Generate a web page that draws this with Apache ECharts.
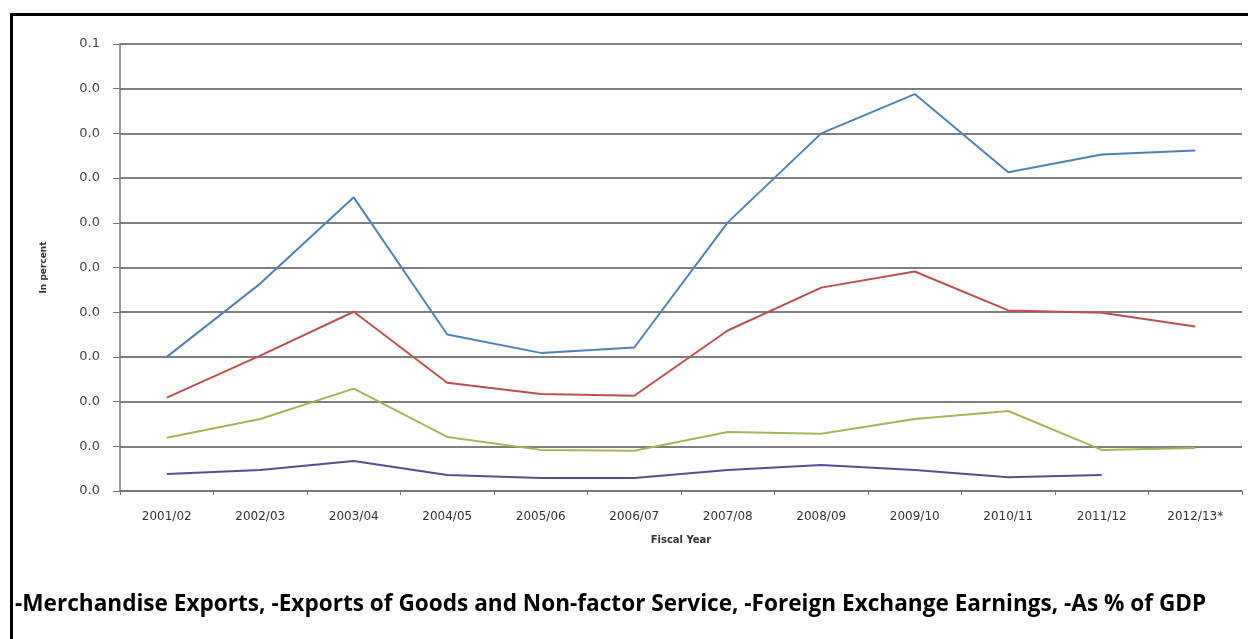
<!DOCTYPE html>
<html>
<head>
<meta charset="utf-8">
<script src="https://cdn.jsdelivr.net/npm/echarts@6/dist/echarts.min.js"></script>
<style>
  html, body { margin: 0; padding: 0; background: #fff; }
  #wrap { position: relative; width: 1248px; height: 639px; overflow: hidden; }
  #frame { position: absolute; left: 10px; top: 13px; width: 1300px; height: 700px;
           border-left: 3px solid #000; border-top: 3px solid #000; }
  #chart { position: absolute; left: 0; top: 0; width: 1248px; height: 639px; }
</style>
</head>
<body>
<div id="wrap">
  <div id="frame"></div>
  <div id="chart"></div>
</div>
<script>
const categories = ['2001/02','2002/03','2003/04','2004/05','2005/06','2006/07','2007/08','2008/09','2009/10','2010/11','2011/12','2012/13*'];
const yTickLabels = ['0.0','0.0','0.0','0.0','0.0','0.0','0.0','0.0','0.0','0.0','0.1'];

const seriesBlue   = [0.0300,0.0464,0.0657,0.0350,0.0309,0.0321,0.0601,0.0800,0.0888,0.0713,0.0753,0.0762];
const seriesRed    = [0.0209,0.0303,0.0401,0.0242,0.0217,0.0213,0.0359,0.0455,0.0491,0.0404,0.0399,0.0368];
const seriesGreen  = [0.0119,0.0161,0.0229,0.0121,0.0092,0.0090,0.0132,0.0128,0.0161,0.0179,0.0092,0.0096];
const seriesPurple = [0.0038,0.0047,0.0067,0.0036,0.0029,0.0029,0.0047,0.0058,0.0047,0.0031,0.0036,null];

const seriesNames = ['Foreign Exchange Earnings','Exports of Goods and Non-factor Service','Merchandise Exports','As % of GDP'];
const colors = ['#4F81BD','#C0504D','#9BBB59','#5B4C96'];
const footnote = '-Merchandise Exports, -Exports of Goods and Non-factor Service, -Foreign Exchange Earnings, -As % of GDP';

const chart = echarts.init(document.getElementById('chart'), null, {renderer: 'canvas'});

function mkSeries(name, data, color) {
  return {
    name: name, type: 'line', data: data, symbol: 'none', smooth: false,
    lineStyle: { color: color, width: 2 }, itemStyle: { color: color },
    connectNulls: false, animation: false
  };
}

chart.setOption({
  backgroundColor: 'transparent',
  animation: false,
  title: {
    text: footnote,
    left: 10, top: 588,
    textStyle: { fontFamily: 'Open Sans', fontWeight: 'bold', fontSize: 22.6, color: '#000' }
  },
  grid: { left: 120, right: 6, top: 44, bottom: 148, containLabel: false },
  xAxis: {
    type: 'category',
    data: categories,
    boundaryGap: true,
    name: 'Fiscal Year',
    nameLocation: 'middle',
    nameGap: 44,
    nameTextStyle: { fontFamily: 'DejaVu Sans', fontWeight: 'bold', fontSize: 10, color: '#333' },
    axisLine: { lineStyle: { color: '#777', width: 1.5 } },
    axisTick: { show: true, length: 4, lineStyle: { color: '#777' } },
    axisLabel: { interval: 0, margin: 20, fontFamily: 'DejaVu Sans', fontSize: 12, color: '#333' },
    splitLine: { show: false }
  },
  yAxis: {
    type: 'value',
    min: 0, max: 0.1, interval: 0.01,
    name: 'In percent',
    nameLocation: 'middle',
    nameGap: 72,
    nameRotate: 90,
    nameTextStyle: { fontFamily: 'DejaVu Sans', fontWeight: 'bold', fontSize: 9, color: '#333' },
    axisLine: { show: true, lineStyle: { color: '#777', width: 1.5 } },
    axisTick: { show: true, length: 7, lineStyle: { color: '#777' } },
    axisLabel: {
      margin: 20, fontFamily: 'DejaVu Sans', fontSize: 13, color: '#444',
      formatter: function (v) { return yTickLabels[Math.round(v / 0.01)]; }
    },
    splitLine: { show: true, lineStyle: { color: '#7f7f7f', width: 2 } }
  },
  series: [
    mkSeries(seriesNames[0], seriesBlue, colors[0]),
    mkSeries(seriesNames[1], seriesRed, colors[1]),
    mkSeries(seriesNames[2], seriesGreen, colors[2]),
    mkSeries(seriesNames[3], seriesPurple, colors[3])
  ]
});
</script>
</body>
</html>
